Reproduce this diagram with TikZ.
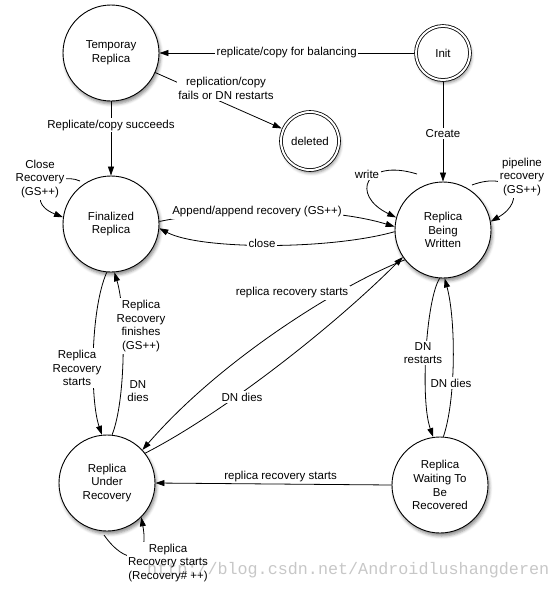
\documentclass[tikz,border=0pt]{standalone}
\usepackage{fontspec}
\setmainfont{Liberation Sans}
\newfontfamily\wmfont{Liberation Mono}
\usetikzlibrary{arrows.meta,shadows.blur}
\begin{document}
\begin{tikzpicture}[x=1pt,y=-1pt,
  every node/.style={font=\fontsize{11.5}{13.8}\selectfont},
  state/.style={circle, draw, line width=0.9pt, fill=white, minimum size=96pt, inner sep=0pt, align=center,
    blur shadow={shadow xshift=1.5pt, shadow yshift=-3pt, shadow blur radius=3pt, shadow opacity=45}},
  dstate/.style={state, double, double distance=2pt, line width=0.8pt, outer sep=2pt},
  arr/.style={draw, line width=0.8pt, -{Triangle[length=9pt,width=6pt]}},
  lbl/.style={fill=white, inner sep=1.5pt, align=center},
  txt/.style={inner sep=1.5pt, align=center}
]
\useasboundingbox (0,0) rectangle (557,590);

% states
\node[state] (T) at (111,53) {Temporay\\Replica};
\node[dstate, minimum size=54pt] (I) at (443,53) {Init};
\node[dstate, minimum size=58pt] (D) at (310,141) {deleted};
\node[state] (F) at (111,224) {Finalized\\Replica};
\node[state] (W) at (443,230) {Replica\\Being\\Written};
\node[state] (U) at (107,483) {Replica\\Under\\Recovery};
\node[state] (R) at (440,485) {Replica\\Waiting To\\Be\\Recovered};

% free ends of self loops
\coordinate (ws) at (417,174);
\coordinate (ps) at (472,185);
\coordinate (cs) at (80,181);
\coordinate (us) at (104,535);

% connectors
\draw[arr] (I) -- node[lbl]{replicate/copy for balancing} (T);
\draw[arr] (T) -- (D) node[lbl] at (226,88) {replication/copy\\fails or DN restarts};
\draw[arr] (T) -- node[lbl, pos=0.32]{Replicate/copy succeeds} (F);
\draw[arr] (I) -- node[lbl, pos=0.52]{Create} (W);

\draw[arr] (F.3) .. controls (230,207) and (330,207) .. (W.176)
  node[lbl] at (257,212) {Append/append recovery (GS++)};
\draw[arr] (W.182) .. controls (330,250) and (200,250) .. (F.-5)
  node[lbl] at (262,243) {close};

\draw[arr] (ws) .. controls (365,158) and (350,195) .. (W.165)
  node[lbl] at (367,174) {write};
\draw[arr] (ps) .. controls (512,170) and (528,200) .. (W.10)
  node[lbl] at (522,177) {pipeline\\recovery\\(GS++)};
\draw[arr] (cs) .. controls (55,170) and (20,200) .. (F.172)
  node[lbl] at (40,179) {Close\\Recovery\\(GS++)};

\draw[arr] (F.-95) .. controls (90,310) and (90,400) .. (U.96)
  node[lbl] at (77,368) {Replica\\Recovery\\starts};
\draw[arr] (U.84) .. controls (126,400) and (126,310) .. (F.-86)
  node[lbl] at (141,326) {Replica\\Recovery\\finishes\\(GS++)};
\node[txt] (dd1) at (138,391) {DN\\dies};

\draw[arr] (W.-94) .. controls (426,300) and (420,400) .. (R.98)
  node[lbl] at (423,353) {DN\\restarts};
\draw[arr] (R.86) .. controls (456,400) and (456,320) .. (W.-88)
  node[lbl] at (451,383) {DN dies};

\draw[arr] (R.west) -- node[txt, pos=0.47, above=0pt]{replica recovery starts} (U.east);

\draw[arr] (W.218) .. controls (340,285) and (220,360) .. (U.43)
  node[lbl] at (292,293) {replica recovery starts};
\draw[arr] (U.38) .. controls (220,415) and (330,330) .. (W.214)
  node[lbl] at (242,397) {DN dies};

\draw[arr] (us) .. controls (125,565) and (150,565) .. (U.-45)
  node[lbl] at (168,563) {Replica\\Recovery starts\\(Recovery\# ++)};

% watermark
\node[anchor=west, inner sep=0pt, text=black, text opacity=0.22,
  font=\wmfont\fontsize{16.75}{18}\selectfont] (wm) at (147,570) {http://blog.csdn.net/Androidlushangderen};
\end{tikzpicture}
\end{document}
